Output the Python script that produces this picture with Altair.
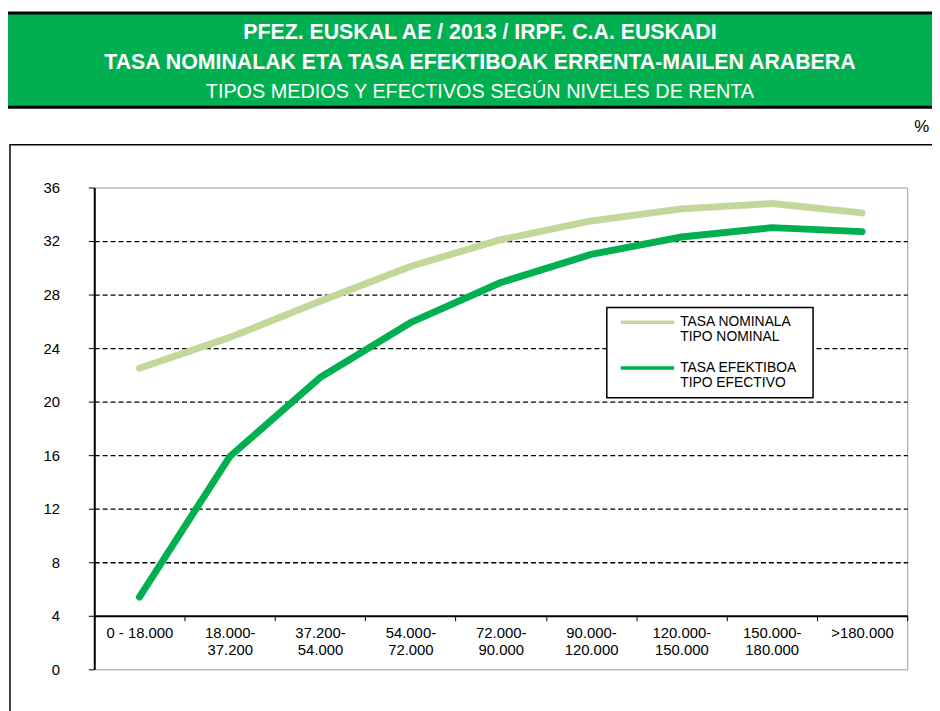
import altair as alt
import pandas as pd

# ---- data ----
categories = ["0 - 18.000", "18.000-\n37.200", "37.200-\n54.000", "54.000-\n72.000",
              "72.000-\n90.000", "90.000-\n120.000", "120.000-\n150.000",
              "150.000-\n180.000", ">180.000"]
nominal = [22.5, 24.8, 27.5, 30.1, 32.1, 33.5, 34.4, 34.8, 34.1]
efectivo = [5.4, 15.9, 21.8, 25.9, 28.9, 31.0, 32.3, 33.0, 32.7]
series = ["TASA NOMINALA\nTIPO NOMINAL", "TASA EFEKTIBOA\nTIPO EFECTIVO"]
colors = ["#C4D79B", "#00B050"]
y_ticks = [0, 4, 8, 12, 16, 20, 24, 28, 32, 36]
title_lines = ["PFEZ. EUSKAL AE / 2013 / IRPF. C.A. EUSKADI",
               "TASA NOMINALAK ETA TASA EFEKTIBOAK ERRENTA-MAILEN ARABERA",
               "TIPOS MEDIOS Y EFECTIVOS SEGÚN NIVELES DE RENTA"]
unit_label = "%"

rows = []
for name, vals in zip(series, [nominal, efectivo]):
    for c, v in zip(categories, vals):
        rows.append({"cat": c, "val": v, "serie": name})
df = pd.DataFrame(rows)

FONT = "Liberation Sans"
one = alt.Data(values=[{}])

outer = alt.Chart(one).mark_rect(fillOpacity=0, stroke="black", strokeWidth=1.5).encode(
    x=alt.value(-85), x2=alt.value(900), y=alt.value(-43), y2=alt.value(700))

title_box = alt.Chart(one).mark_rect(fill="#00B050", stroke="black", strokeWidth=3).encode(
    x=alt.value(-91), x2=alt.value(900), y=alt.value(-176), y2=alt.value(-81))

layers = [outer, title_box]
for txt, yy, bold in zip(title_lines, [-156, -126, -96], [True, True, False]):
    layers.append(
        alt.Chart(one).mark_text(font=FONT, fontSize=21.5 if bold else 20,
                                 fontWeight="bold" if bold else "normal",
                                 color="white", align="center", baseline="middle").encode(
            x=alt.value(389), y=alt.value(yy), text=alt.value(txt)))

layers.append(alt.Chart(one).mark_text(font=FONT, fontSize=17, color="black", align="left",
                                       baseline="middle").encode(
    x=alt.value(827), y=alt.value(-61), text=alt.value(unit_label)))

lines = alt.Chart(df).mark_line(strokeWidth=7, strokeCap="round", strokeJoin="round").encode(
    x=alt.X("cat:N", sort=categories, bandPosition=0.5,
            scale=alt.Scale(type="band", paddingInner=0, paddingOuter=0),
            axis=alt.Axis(title=None, offset=-54, domainColor="black", domainWidth=2,
                          tickColor="black", tickSize=5, tickWidth=1, tickBand="extent",
                          labelAngle=0, labelFont=FONT, labelFontSize=15, labelColor="black",
                          labelPadding=5, labelLineHeight=17, labelLimit=0,
                          labelExpr="split(datum.label, '\\n')", grid=False)),
    y=alt.Y("val:Q", scale=alt.Scale(domain=[0, 36], nice=False),
            axis=alt.Axis(title=None, values=y_ticks, domainColor="black", domainWidth=2,
                          tickColor="black", tickSize=6, tickWidth=1,
                          labelFont=FONT, labelFontSize=15, labelColor="black",
                          labelPadding=29, grid=True, gridColor="black", gridDash=[5, 3],
                          gridWidth=1.3,
                          gridOpacity=alt.condition("datum.value == 0 || datum.value == 4 || datum.value == 36",
                                                    alt.value(0), alt.value(1)))),
    color=alt.Color("serie:N", sort=series,
                    scale=alt.Scale(domain=series, range=colors), legend=None),
)
layers.append(lines)

# ---- legend box drawn by hand (as in the Excel original) ----
layers.append(alt.Chart(one).mark_rect(fill="white", stroke="black", strokeWidth=1.5).encode(
    x=alt.value(517), x2=alt.value(725), y=alt.value(121), y2=alt.value(212)))
for i, (name, col) in enumerate(zip(series, colors)):
    ys = 136 + i * 46
    layers.append(alt.Chart(one).mark_rule(color=col, strokeWidth=3.5).encode(
        x=alt.value(531), x2=alt.value(585), y=alt.value(ys)))
    for j, part in enumerate(name.split("\n")):
        layers.append(alt.Chart(one).mark_text(font=FONT, fontSize=14, color="black",
                                               align="left", baseline="middle").encode(
            x=alt.value(591), y=alt.value(ys + j * 15), text=alt.value(part)))

chart = alt.layer(*layers).properties(
    width=820, height=486,
    padding={"left": 87, "top": 178, "right": 25, "bottom": 39},
    autosize=alt.AutoSizeParams(type="none"),
).configure_view(stroke="#999999", strokeWidth=1)

chart.save("out.html", embed_options={"renderer": "svg", "actions": False})
